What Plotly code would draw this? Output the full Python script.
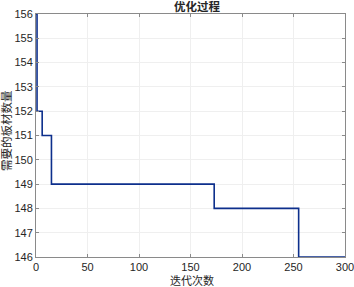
import plotly.graph_objects as go

iterations = [0, 1, 6, 15, 173, 255, 300]
plates = [156, 152, 151, 149, 148, 146, 146]
x_ticks = [0, 50, 100, 150, 200, 250, 300]
y_ticks = list(range(146, 157))

font_fam = "Liberation Sans, Arial, Noto Sans CJK SC"
txt = "#262626"

fig = go.Figure()
fig.add_trace(go.Scatter(x=iterations, y=plates, mode="lines", line_shape="hv",
                         line=dict(color="#0d2f8c", width=1.6), hoverinfo="skip"))

axis_common = dict(showline=True, linecolor="#8a8a8a", linewidth=1, mirror="ticks",
                   ticks="inside", ticklen=3, tickcolor="#8a8a8a", automargin=False,
                   ticklabeloverflow="allow",
                   showgrid=True, gridcolor="#efefef", gridwidth=1, zeroline=False,
                   tickfont=dict(size=11, color=txt, family=font_fam))

fig.update_layout(
    width=354, height=287,
    margin=dict(l=36, r=9, t=14, b=30),
    paper_bgcolor="white", plot_bgcolor="white",
    showlegend=False,
    xaxis=dict(range=[0, 300], tickvals=x_ticks, **axis_common),
    yaxis=dict(range=[146, 156], tickvals=y_ticks, **axis_common),
)

fig.add_annotation(text="<b>优化过程</b>", xref="paper", yref="paper",
                   x=(197 - 36) / 309, y=1 + (14 - 6.5) / 243, showarrow=False,
                   xanchor="center", yanchor="middle", borderpad=0,
                   font=dict(size=11.5, color=txt, family=font_fam))
fig.add_annotation(text="迭代次数", xref="paper", yref="paper",
                   x=(192 - 36) / 309, y=-(280 - 257) / 243, showarrow=False,
                   xanchor="center", yanchor="middle", borderpad=0,
                   font=dict(size=11, color=txt, family=font_fam))
fig.add_annotation(text="需要的板材数量", xref="paper", yref="paper",
                   x=-(36 - 6) / 309, y=(257 - 131) / 243, showarrow=False, textangle=-90,
                   xanchor="center", yanchor="middle", borderpad=0,
                   font=dict(size=11.5, color=txt, family=font_fam))

fig.write_html("out.html", config={"displayModeBar": False},
               post_script="document.body.style.margin='0';document.body.style.overflow='hidden';")
